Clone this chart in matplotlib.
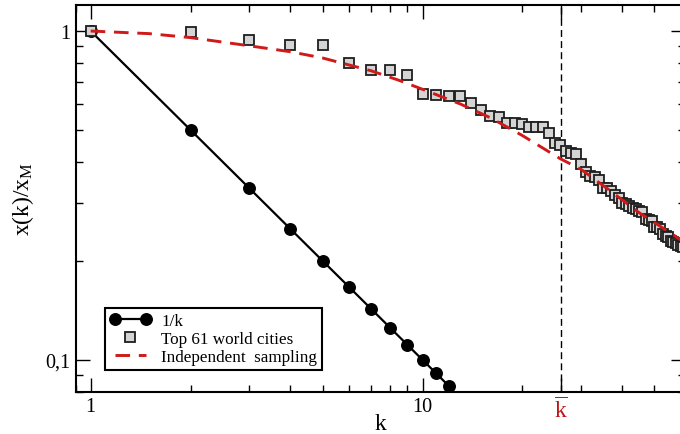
import matplotlib
matplotlib.use("Agg")
import matplotlib.pyplot as plt
from matplotlib.ticker import FixedLocator, NullFormatter, LogLocator
from matplotlib.legend_handler import HandlerLine2D

plt.rcParams['font.family'] = ['Liberation Serif', 'DejaVu Serif']
plt.rcParams['mathtext.fontset'] = 'custom'
plt.rcParams['mathtext.rm'] = 'Liberation Serif'
plt.rcParams['mathtext.it'] = 'Liberation Serif:italic'

# ---- data ----
k_inv = [1, 2, 3, 4, 5, 6, 7, 8, 9, 10, 11, 12]
y_inv = [1.0, 0.5, 0.3333, 0.25, 0.2, 0.1667, 0.1429, 0.125, 0.1111, 0.1, 0.0909, 0.0833]

k_cities = list(range(1, 62))
y_cities = [1.0, 0.995, 0.941, 0.909, 0.909, 0.80, 0.759, 0.759, 0.733, 0.642,
            0.638, 0.635, 0.633, 0.605, 0.577, 0.551, 0.549, 0.526, 0.524, 0.520,
            0.510, 0.510, 0.509, 0.489, 0.457, 0.449, 0.431, 0.426, 0.422, 0.393,
            0.373, 0.363, 0.360, 0.352, 0.334, 0.332, 0.327, 0.317, 0.310, 0.299,
            0.298, 0.293, 0.289, 0.287, 0.283, 0.281, 0.269, 0.266, 0.264, 0.254,
            0.253, 0.250, 0.241, 0.238, 0.236, 0.230, 0.229, 0.227, 0.224, 0.222,
            0.220]

k_samp = [1, 1.5, 2, 3, 4, 5, 7, 8.5, 10, 13, 16, 20, 26, 30, 36, 45, 57, 62]
y_samp = [1.0, 0.982, 0.955, 0.902, 0.865, 0.828, 0.757, 0.708, 0.665, 0.600,
          0.545, 0.481, 0.409, 0.380, 0.332, 0.280, 0.240, 0.226]

k_bar = 26.1

xticks = [1, 10, k_bar]
xticklabels = ['1', '10', r'$\overline{\mathrm{k}}$']
yticks = [0.1, 1]
yticklabels = ['0,1', '1']

# ---- figure ----
fig = plt.figure(figsize=(6.8, 4.35), dpi=100)
W, H = 680, 435
left, right, top, bottom = 75.5, 685.0, 6.0, 392.7
ax = fig.add_axes([left / W, 1 - bottom / H, (right - left) / W, (bottom - top) / H])
ax.set_xscale('log')
ax.set_yscale('log')
ax.set_xlim(0.9, 61.8)
ax.set_ylim(0.08, 1.2)

l1, = ax.plot(k_inv, y_inv, '-o', color='black', lw=1.6, ms=8.3,
              markerfacecolor='black', zorder=2, label='1/k')
l2, = ax.plot(k_cities, y_cities, 's', ms=7, markerfacecolor='#d4d4d4',
              markeredgecolor='#1e1e1e', markeredgewidth=1.3, linestyle='none',
              zorder=3, label='Top 61 world cities')
l3, = ax.plot(k_samp, y_samp, '--', color='#d01a1a', lw=2.1, dashes=(5, 3),
              zorder=4, label='Independent  sampling')
ax.axvline(k_bar, color='black', lw=1.0, ls=(0, (5, 3)), zorder=1)

ax.xaxis.set_major_locator(FixedLocator(xticks))
ax.set_xticklabels(xticklabels)
ax.xaxis.set_minor_locator(LogLocator(base=10, subs=range(2, 10), numticks=20))
ax.xaxis.set_minor_formatter(NullFormatter())
ax.yaxis.set_major_locator(FixedLocator(yticks))
ax.set_yticklabels(yticklabels)
ax.yaxis.set_minor_locator(LogLocator(base=10, subs=range(2, 10), numticks=20))
ax.yaxis.set_minor_formatter(NullFormatter())

ax.tick_params(which='both', direction='in', top=True, right=True, labelsize=14.5)
ax.tick_params(which='major', length=10, width=1.0, pad=4)
ax.tick_params(which='minor', length=5, width=1.0)
ax.get_xticklabels()[2].set_color('#c0141a')
ax.get_xticklabels()[2].set_fontsize(17)

for s in ax.spines.values():
    s.set_linewidth(1.5)

ax.set_xlabel('k', fontsize=17, labelpad=-7)
ax.set_ylabel(r'x(k)/x$_{\mathrm{M}}$', fontsize=17, labelpad=6)

leg = ax.legend(handles=[l1, l2, l3], loc='lower left',
                bbox_to_anchor=(0.048, 0.056), numpoints=2,
                handler_map={l2: HandlerLine2D(numpoints=1)},
                fontsize=12.3, frameon=True, fancybox=False, framealpha=1,
                edgecolor='black', handlelength=2.4, handletextpad=0.6,
                labelspacing=0.12, borderpad=0.3, borderaxespad=0)
leg.get_frame().set_linewidth(1.5)

fig.savefig('out.png', dpi=100)
